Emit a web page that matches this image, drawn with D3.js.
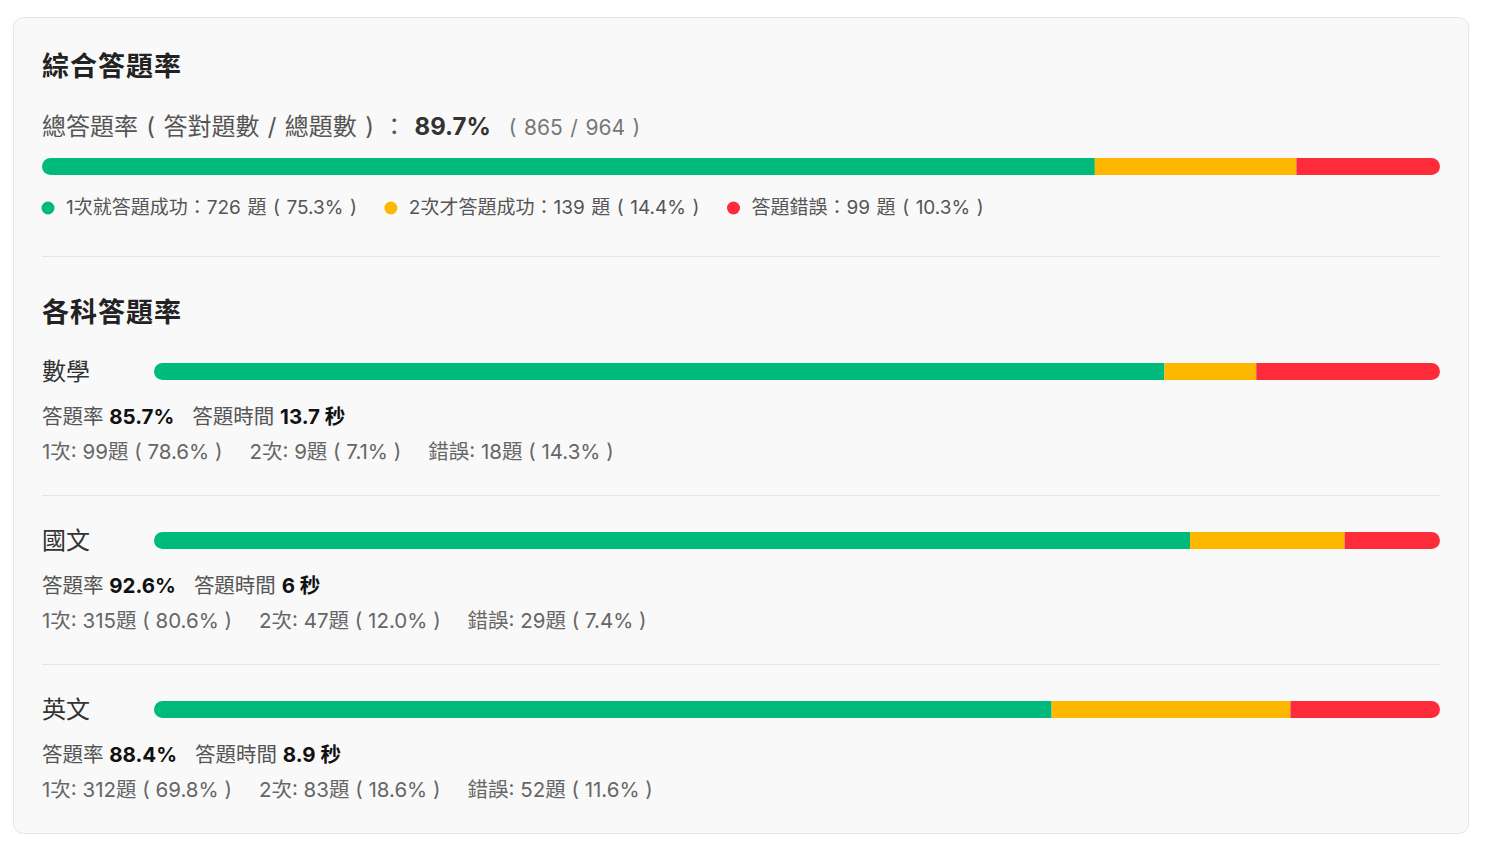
<!DOCTYPE html>
<html><head><meta charset="utf-8">
<script src="https://cdn.jsdelivr.net/npm/d3@7"></script>
<style>
html,body{margin:0;padding:0;background:#fff;}
svg text{font-family:Inter,"Noto Sans CJK TC","Noto Sans",sans-serif;}
</style></head>
<body>
<svg id="chart" width="1487" height="847"></svg>
<script>
// ---- data ----
const categories = ["1次就答題成功", "2次才答題成功", "答題錯誤"];
const shortNames = ["1次", "2次", "錯誤"];
const overallCounts = [726, 139, 99];
const subjects = ["數學", "國文", "英文"];
const firstTry = [99, 315, 312];
const secondTry = [9, 47, 83];
const wrong = [18, 29, 52];
const answerTimes = ["13.7", "6", "8.9"];
const colors = ["#00ba7c", "#ffb800", "#fe2c3a"];

const svg = d3.select("#chart");
const fmt = d3.format(".1f");
const paren = s => ` ( ${s} )`;

// card
svg.append("rect").attr("x", 13.5).attr("y", 17.5).attr("width", 1455).attr("height", 816)
  .attr("rx", 10).attr("fill", "#f9f9f9").attr("stroke", "#e4e4e4");

const left = 42, right = 1440;

function stackedBar(g, counts, x0, x1, y, h, id) {
  const total = d3.sum(counts);
  const x = d3.scaleLinear().domain([0, total]).range([x0, x1]);
  const cum = d3.cumsum(counts);
  const segs = counts.map((c, i) => ({start: cum[i] - c, end: cum[i], i}));
  g.append("clipPath").attr("id", id).append("rect")
    .attr("x", x0).attr("y", y).attr("width", x1 - x0).attr("height", h).attr("rx", h / 2);
  g.append("g").attr("clip-path", `url(#${id})`).selectAll("rect").data(segs).join("rect")
    .attr("x", d => x(d.start)).attr("y", y)
    .attr("width", d => x(d.end) - x(d.start)).attr("height", h)
    .attr("fill", d => colors[d.i]);
}

// ---- overall section ----
svg.append("text").attr("x", left).attr("y", 76).attr("font-size", 27).attr("font-weight", 700)
  .attr("fill", "#222").attr("letter-spacing", 1).text("綜合答題率");

const total = d3.sum(overallCounts);
const correct = overallCounts[0] + overallCounts[1];
const sub = svg.append("text").attr("x", left).attr("y", 135).attr("font-size", 24).attr("fill", "#555")
  .attr("word-spacing", 1.6);
sub.append("tspan").text("總答題率 ( 答對題數 / 總題數 ) ：  ");
sub.append("tspan").attr("font-weight", 700).attr("fill", "#333").text(fmt(correct / total * 100) + "%");
sub.append("tspan").attr("dx", 18).attr("font-size", 21).attr("fill", "#777").text(`( ${correct} / ${total} )`);

stackedBar(svg, overallCounts, left, right, 158, 17, "clipAll");

// legend
let lx = 48;
categories.forEach((c, i) => {
  svg.append("circle").attr("cx", lx).attr("cy", 208).attr("r", 6.5).attr("fill", colors[i]);
  const t = svg.append("text").attr("x", lx + 18).attr("y", 214).attr("font-size", 19).attr("fill", "#555")
    .attr("word-spacing", 1.2)
    .text(`${c}：${overallCounts[i]} 題` + paren(fmt(overallCounts[i] / total * 100) + "%"));
  lx = lx + 18 + t.node().getComputedTextLength() + 34;
});

svg.append("line").attr("x1", left).attr("x2", right).attr("y1", 256.5).attr("y2", 256.5)
  .attr("stroke", "#e6e6e6");

// ---- subjects ----
svg.append("text").attr("x", left).attr("y", 322).attr("font-size", 27).attr("font-weight", 700)
  .attr("fill", "#222").attr("letter-spacing", 1).text("各科答題率");

const rowY = d3.scaleLinear().domain([0, 1]).range([0, 169]);
subjects.forEach((s, k) => {
  const oy = rowY(k);
  const counts = [firstTry[k], secondTry[k], wrong[k]];
  const tot = d3.sum(counts);
  svg.append("text").attr("x", left).attr("y", 380 + oy).attr("font-size", 24).attr("fill", "#333").text(s);
  stackedBar(svg, counts, 154, right, 363 + oy, 17, "clip" + k);

  const st = svg.append("text").attr("x", left).attr("y", 424 + oy).attr("font-size", 20.5).attr("fill", "#555");
  st.append("tspan").text("答題率 ");
  st.append("tspan").attr("font-weight", 700).attr("fill", "#111").text(fmt((counts[0] + counts[1]) / tot * 100) + "%");
  st.append("tspan").attr("dx", 18).text("答題時間 ");
  st.append("tspan").attr("font-weight", 700).attr("fill", "#111").text(answerTimes[k] + " 秒");

  let dx = left;
  counts.forEach((c, i) => {
    const t = svg.append("text").attr("x", dx).attr("y", 459 + oy).attr("font-size", 20.5).attr("fill", "#666")
      .text(`${shortNames[i]}: ${c}題` + paren(fmt(c / tot * 100) + "%"));
    dx += t.node().getComputedTextLength() + 27;
  });

  if (k < subjects.length - 1) {
    svg.append("line").attr("x1", left).attr("x2", right).attr("y1", 495.5 + oy).attr("y2", 495.5 + oy)
      .attr("stroke", "#e6e6e6");
  }
});
</script>
</body></html>
